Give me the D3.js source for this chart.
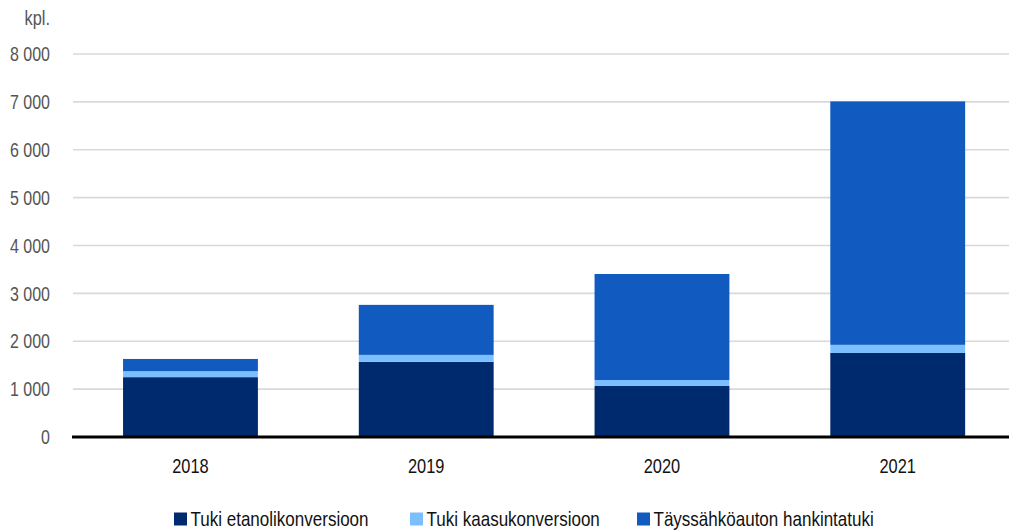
<!DOCTYPE html>
<html><head><meta charset="utf-8">
<script src="https://cdn.jsdelivr.net/npm/d3@7"></script>
<style>
body{margin:0;background:#fff;}
svg text{font-family:"Liberation Sans",Arial,sans-serif;}
</style></head>
<body><svg id="c" width="1009" height="532"></svg>
<script>
const years = ["2018","2019","2020","2021"];
const seriesNames = ["Tuki etanolikonversioon","Tuki kaasukonversioon","Täyssähköauton hankintatuki"];
const etanoli = [1250, 1570, 1065, 1755];
const kaasu = [125, 145, 125, 170];
const taysSahko = [255, 1045, 2215, 5085];
const yTicks = [0,1000,2000,3000,4000,5000,6000,7000,8000];
const colors = ["#002a6e","#7bbfff","#115bc0"];

const svg = d3.select("#c");
const x = d3.scaleBand().domain(years).range([72.6,1015.6]).paddingInner(0.428).paddingOuter(0.214);
const y = d3.scaleLinear().domain([0,8000]).range([437,54]);
const tr = (px,py,sx) => `translate(${px},${py}) scale(${sx},1)`;

// gridlines
svg.append("g").selectAll("line").data(yTicks.filter(d=>d>0)).join("line")
  .attr("x1",73).attr("x2",1009).attr("y1",d=>y(d)).attr("y2",d=>y(d))
  .attr("stroke","#d9d9d9").attr("stroke-width",1.6);

// y tick labels
const fmt = d => d3.format(",")(d).replace(/,/g," ");
svg.append("g").selectAll("text").data(yTicks).join("text")
  .attr("transform",d=>tr(50,y(d),0.78)).attr("dy","0.35em").attr("text-anchor","end")
  .attr("font-size",20.5).attr("fill","#555").text(fmt);
svg.append("text").attr("transform",tr(50,18,0.8)).attr("dy","0.35em").attr("text-anchor","end")
  .attr("font-size",20.5).attr("fill","#555").text("kpl.");

const data = years.map((yr,i)=>({year:yr, a:etanoli[i], b:kaasu[i], c:taysSahko[i]}));
const stack = d3.stack().keys(["a","b","c"])(data);
svg.append("g").selectAll("g").data(stack).join("g").attr("fill",(d,i)=>colors[i])
  .selectAll("rect").data(d=>d).join("rect")
  .attr("x",d=>x(d.data.year)).attr("width",x.bandwidth())
  .attr("y",d=>y(d[1])).attr("height",d=>y(d[0])-y(d[1]));

// zero axis line
svg.append("line").attr("x1",72).attr("x2",1009).attr("y1",y(0)).attr("y2",y(0))
  .attr("stroke","#000").attr("stroke-width",3);

// x labels
svg.append("g").selectAll("text").data(years).join("text")
  .attr("transform",d=>tr(x(d)+x.bandwidth()/2,466,0.8)).attr("dy","0.35em").attr("text-anchor","middle")
  .attr("font-size",20.5).attr("fill","#111").text(d=>d);

// legend
const legX = [174, 410, 637];
const lg = svg.append("g").selectAll("g").data(seriesNames).join("g")
  .attr("transform",(d,i)=>`translate(${legX[i]},519)`);
lg.append("rect").attr("x",0).attr("y",-6.5).attr("width",13).attr("height",13).attr("fill",(d,i)=>colors[i]);
lg.append("text").attr("transform",tr(16.5,0,0.83)).attr("dy","0.35em").attr("font-size",20.5).attr("fill","#111").text(d=>d);
</script></body></html>
